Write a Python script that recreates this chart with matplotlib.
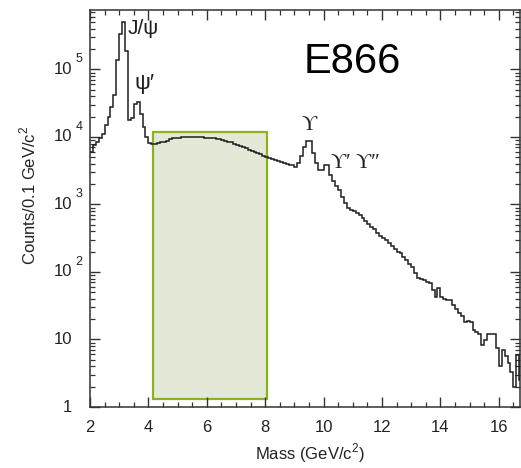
import numpy as np
import matplotlib
matplotlib.use("Agg")
import matplotlib.pyplot as plt
from matplotlib.patches import Rectangle
from matplotlib.ticker import MultipleLocator, LogLocator, NullFormatter

plt.rcParams['font.family'] = ['Liberation Sans', 'DejaVu Sans']
plt.rcParams['mathtext.fontset'] = 'custom'
plt.rcParams['mathtext.rm'] = 'Liberation Sans'

# ---- data ----
bin_start = 2.0
bin_width = 0.1
counts = [
    6000, 7500, 8500, 9500, 11000, 15000, 20000, 28000, 42000, 140000,      # 2.0-2.9
    330000, 510000, 190000, 18000, 19000, 31000, 33000, 22000, 14000, 10000, # 3.0-3.9
    8200, 7800, 7900, 8100, 8300, 8500, 8800, 9200, 9500, 9700,             # 4.0-4.9
    9800, 9900, 10000, 10000, 9950, 10000, 9900, 9900, 9850, 9800,          # 5.0-5.9
    9700, 9600, 9500, 9300, 9200, 9000, 8800, 8500, 8300, 8000,             # 6.0-6.9
    7700, 7400, 7100, 6800, 6500, 6300, 6000, 5800, 5500, 5300,             # 7.0-7.9
    5100, 4900, 4700, 4500, 4400, 4300, 4100, 4000, 3900, 3800,             # 8.0-8.9
    3650, 4100, 5200, 7200, 8800, 8800, 5700, 4100, 3250, 3250,             # 9.0-9.9
    3850, 3850, 2750, 2200, 1900, 1630, 1310, 1050, 900, 830,               # 10.0-10.9
    790, 740, 690, 630, 570, 520, 470, 430, 380, 340,                       # 11.0-11.9
    316, 300, 270, 240, 220, 200, 190, 165, 150, 130,                       # 12.0-12.9
    120, 95, 81, 78, 75, 72, 68, 55, 43, 58,                                # 13.0-13.9
    42, 40, 39, 39, 32, 28, 25, 22, 18, 19,                                 # 14.0-14.9
    18, 14, 13, 12, 8.3, 9.8, 12, 12, 12, 7.4,                              # 15.0-15.9
    4, 7, 5.6, 4.5, 3.3, 2, 5.9, 2.5,                                       # 16.0-16.7
]
box_x = [4.15, 8.05]
box_y = [1.3, 1.18e4]
x_ticks = [2, 4, 6, 8, 10, 12, 14, 16]
y_decades = [0, 1, 2, 3, 4, 5]

edges = bin_start + bin_width * np.arange(len(counts) + 1)

W, H = 521, 468
fig = plt.figure(figsize=(W / 100, H / 100), dpi=100)
L, R, T, B = 90, 520, 10, 407
ax = fig.add_axes([L / W, (H - B) / H, (R - L) / W, (B - T) / H])

ax.add_patch(Rectangle((box_x[0], box_y[0]), box_x[1] - box_x[0], box_y[1] - box_y[0],
                       facecolor='#e4e8d6', edgecolor='#8ab41f', lw=1.6, zorder=1))
ax.stairs(counts, edges, baseline=None, color='#1e1e1e', lw=1.1, zorder=3)

ax.set_yscale('log')
ax.set_xlim(2, 2 + (R - L) / 29.2)
ax.set_ylim(1, 7.6e5)

ax.xaxis.set_major_locator(MultipleLocator(2))
ax.xaxis.set_minor_locator(MultipleLocator(0.5))
ax.yaxis.set_major_locator(LogLocator(base=10, numticks=10))
ax.yaxis.set_minor_locator(LogLocator(base=10, subs=np.arange(2, 10), numticks=20))
ax.yaxis.set_major_formatter(NullFormatter())
ax.yaxis.set_minor_formatter(NullFormatter())
ax.set_xticks(x_ticks)
ax.set_xticklabels([str(t) for t in x_ticks])
ax.tick_params(which='both', direction='in', top=True, right=True, colors='#333333',
               labelcolor='#222222', labelsize=12)
ax.tick_params(which='major', length=7, width=1.0, pad=9)
ax.tick_params(which='minor', length=3.6, width=0.9)
for s in ax.spines.values():
    s.set_color('#333333')
    s.set_linewidth(1.1)

# y tick labels: "10" base right-aligned, exponent as superscript
tr = ax.get_yaxis_transform()
for d in y_decades:
    base = '1' if d == 0 else '10'
    ax.text(-0.042, 10 ** d, base, transform=tr, ha='right', va='center',
            fontsize=12, color='#222222')
    if d >= 2:
        ax.text(-0.033, 10 ** d * 10 ** 0.06, str(d), transform=tr, ha='left',
                va='bottom', fontsize=9, color='#222222')

fig.text(28 / W, 1 - 195 / H, 'Counts/0.1 GeV/c$^{2}$', rotation=90, ha='center',
         va='center', fontsize=12, color='#222222')
fig.text(310 / W, 3 / H, 'Mass (GeV/c$^{2}$)', ha='center', va='bottom',
         fontsize=12, color='#222222')

fig.text(352 / W, 1 - 62 / H, 'E866', ha='center', va='center', fontsize=30, color='black')

serif = ['Liberation Serif', 'DejaVu Serif']
fig.text(128 / W, 1 - 28 / H, 'J/ψ', ha='left', va='center', fontsize=15,
         family=['Liberation Sans', 'DejaVu Sans'], color='#1e1e1e')
fig.text(135 / W, 1 - 83 / H, 'ψ′', ha='left', va='center', fontsize=16,
         family=['Liberation Sans', 'DejaVu Sans'], color='#1e1e1e')
fig.text(302 / W, 1 - 125 / H, 'ϒ', ha='left', va='center', fontsize=15,
         family=serif, color='#1e1e1e')
fig.text(331 / W, 1 - 164 / H, 'ϒ′ ϒ″', ha='left', va='center', fontsize=15,
         family=serif, color='#1e1e1e')

fig.savefig('out.png', dpi=100)
